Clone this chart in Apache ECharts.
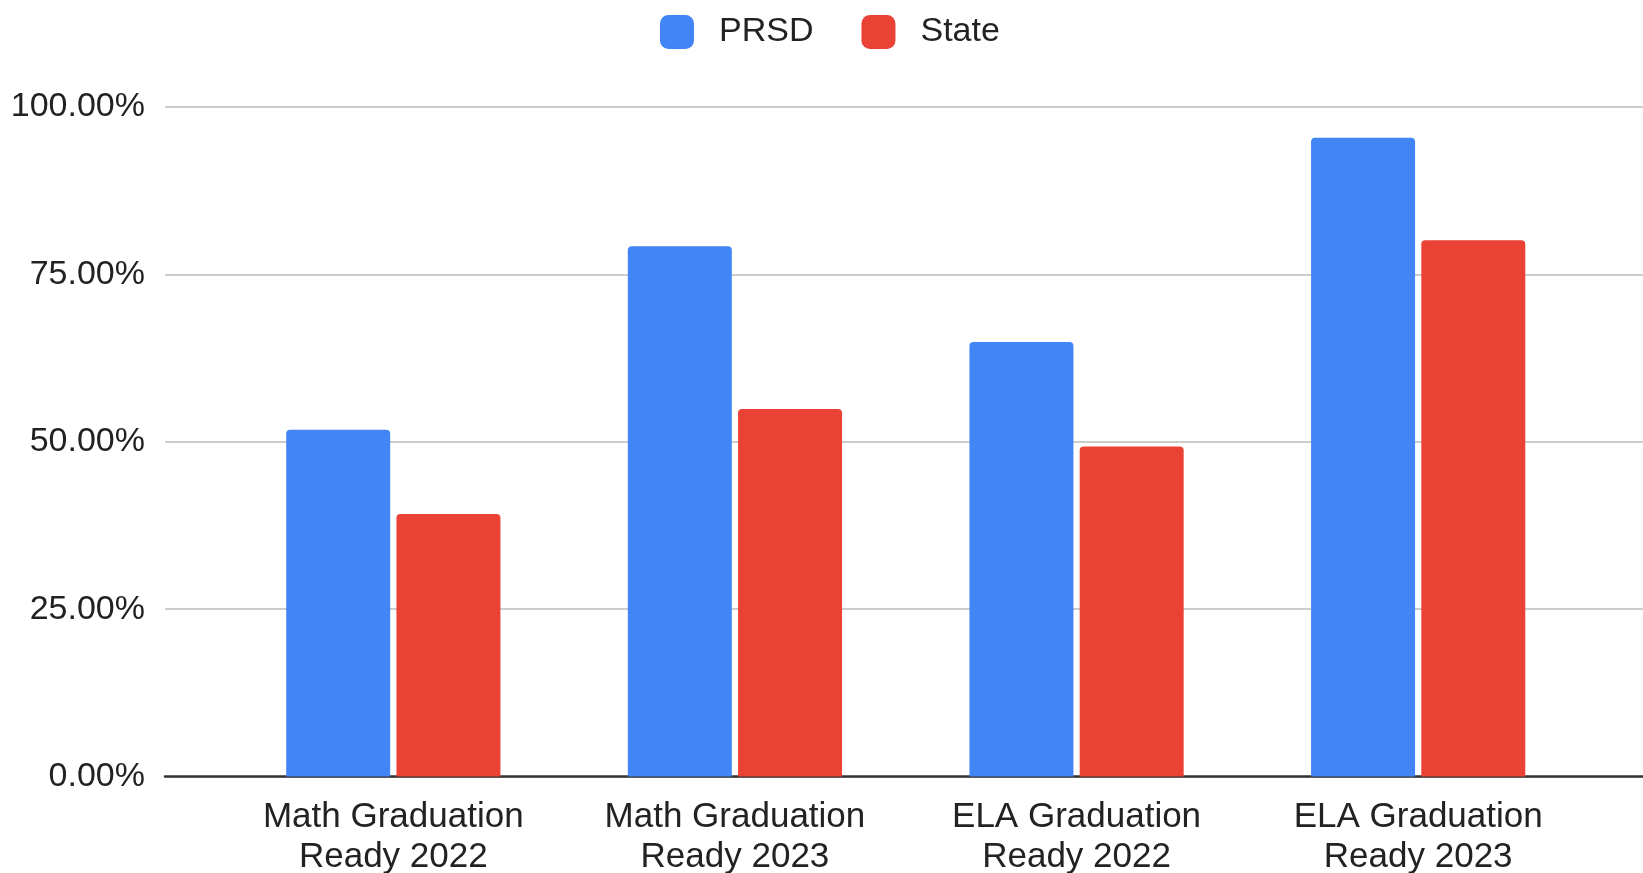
<!DOCTYPE html>
<html>
<head>
<meta charset="utf-8">
<script src="https://cdn.jsdelivr.net/npm/echarts@6/dist/echarts.min.js"></script>
<style>
html,body{margin:0;padding:0;background:#fff;}
#chart{width:1643px;height:873px;}
</style>
</head>
<body>
<div id="chart"></div>
<script>
var categories = ['Math Graduation\nReady 2022', 'Math Graduation\nReady 2023', 'ELA Graduation\nReady 2022', 'ELA Graduation\nReady 2023'];
var prsdValues = [51.8, 79.2, 64.9, 95.4];
var stateValues = [39.2, 54.9, 49.3, 80.1];
var seriesNames = ['PRSD', 'State'];
var yTicks = [0, 25, 50, 75, 100];

var FONT = '"Liberation Sans", Arial, sans-serif';
var chart = echarts.init(document.getElementById('chart'));
var option = {
  backgroundColor: '#ffffff',
  animation: false,
  legend: {
    left: 655,
    top: 10,
    itemWidth: 34,
    itemHeight: 34,
    itemGap: 48,
    icon: 'roundRect',
    textStyle: { fontFamily: FONT, fontSize: 34, color: '#222', padding: [0, 0, 0, 20] },
    data: seriesNames
  },
  grid: [
    { left: 165, right: 0, top: 107, height: 669.5, outerBoundsMode: 'none', containLabel: false },
    { left: 222.5, right: 54, top: 107, height: 669.5, outerBoundsMode: 'none', containLabel: false }
  ],
  xAxis: [
    {
      gridIndex: 0, type: 'category', data: [''],
      axisLine: { show: true, lineStyle: { color: '#333333', width: 2.5 } },
      axisTick: { show: false }, axisLabel: { show: false }
    },
    {
      gridIndex: 1, type: 'category', data: categories,
      axisLine: { show: false }, axisTick: { show: false },
      axisLabel: { fontFamily: FONT, fontSize: 35, color: '#222', lineHeight: 40, margin: 21, interval: 0 }
    }
  ],
  yAxis: [
    {
      gridIndex: 0, type: 'value', min: yTicks[0], max: yTicks[yTicks.length - 1], interval: 25,
      axisLine: { show: false }, axisTick: { show: false },
      splitLine: { lineStyle: { color: '#cccccc', width: 2 } },
      axisLabel: { fontFamily: FONT, fontSize: 34, color: '#222', margin: 20,
        formatter: function (v) { return v.toFixed(2) + '%'; } }
    },
    {
      gridIndex: 1, type: 'value', min: yTicks[0], max: yTicks[yTicks.length - 1], interval: 25,
      show: false, splitLine: { show: false }
    }
  ],
  series: [
    {
      name: seriesNames[0], type: 'bar', xAxisIndex: 1, yAxisIndex: 1,
      data: prsdValues, barWidth: 104, barGap: '6%',
      itemStyle: { color: '#4285F4', borderRadius: [4, 4, 0, 0] }
    },
    {
      name: seriesNames[1], type: 'bar', xAxisIndex: 1, yAxisIndex: 1,
      data: stateValues, barWidth: 104, barGap: '6%',
      itemStyle: { color: '#EA4335', borderRadius: [4, 4, 0, 0] }
    }
  ]
};
chart.setOption(option);
</script>
</body>
</html>
